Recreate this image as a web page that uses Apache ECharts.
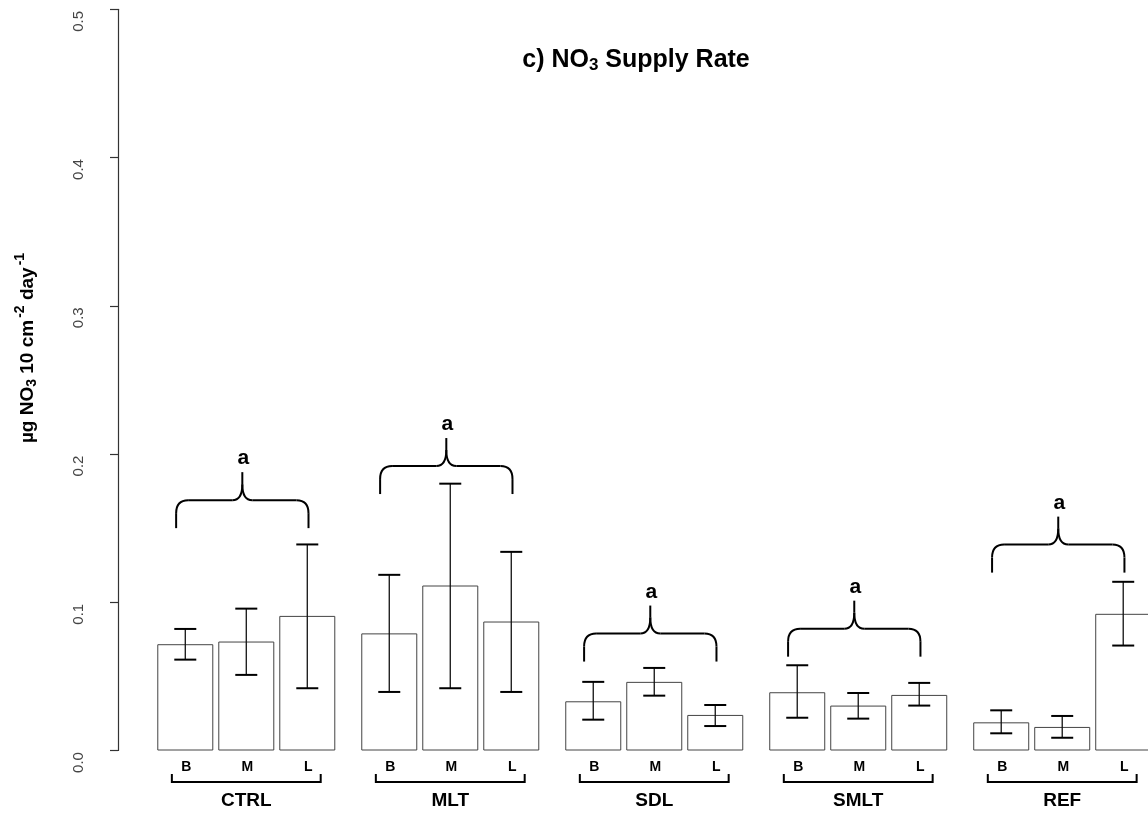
<!DOCTYPE html>
<html><head><meta charset="utf-8">
<script src="https://cdn.jsdelivr.net/npm/echarts@6/dist/echarts.min.js"></script>
<style>html,body{margin:0;padding:0;background:#fff}#c{width:1148px;height:816px}</style>
</head><body><div id="c"></div>
<script>
// ---------------- data ----------------
const groups = ['CTRL', 'MLT', 'SDL', 'SMLT', 'REF'];
const levels = ['B', 'M', 'L'];
const meanCTRL = [0.0717, 0.0735, 0.0908];
const meanMLT  = [0.0790, 0.1113, 0.0870];
const meanSDL  = [0.0332, 0.0463, 0.0240];
const meanSMLT = [0.0393, 0.0303, 0.0375];
const meanREF  = [0.0190, 0.0159, 0.0922];
const lowCTRL  = [0.0613, 0.0510, 0.0420];
const lowMLT   = [0.0395, 0.0420, 0.0395];
const lowSDL   = [0.0208, 0.0370, 0.0165];
const lowSMLT  = [0.0221, 0.0215, 0.0303];
const lowREF   = [0.0116, 0.0086, 0.0708];
const highCTRL = [0.0820, 0.0957, 0.1390];
const highMLT  = [0.1185, 0.1800, 0.1340];
const highSDL  = [0.0463, 0.0557, 0.0307];
const highSMLT = [0.0575, 0.0388, 0.0456];
const highREF  = [0.0271, 0.0233, 0.1138];
const braceBase = [0.150, 0.173, 0.060, 0.0633, 0.120];
const braceLetter = ['a', 'a', 'a', 'a', 'a'];
const yTicks = [0.0, 0.1, 0.2, 0.3, 0.4, 0.5];

const means = [meanCTRL, meanMLT, meanSDL, meanSMLT, meanREF];
const lows = [lowCTRL, lowMLT, lowSDL, lowSMLT, lowREF];
const highs = [highCTRL, highMLT, highSDL, highSMLT, highREF];

// ---------------- layout ----------------
const GSTEP = 3.344;         // group step in bar slots
const pos = (g, i) => g * GSTEP + i;
const FONT = 'Liberation Sans, Arial, Helvetica, sans-serif';

const barData = [], errData = [], lblData = [];
groups.forEach((g, gi) => levels.forEach((l, li) => {
  barData.push([pos(gi, li), means[gi][li]]);
  errData.push([pos(gi, li), lows[gi][li], highs[gi][li]]);
  lblData.push([pos(gi, li), 0, l]);
}));
const braceData = groups.map((g, gi) => [gi, braceBase[gi], braceLetter[gi]]);
const groupData = groups.map((g, gi) => [pos(gi, 1), 0, g]);

const chart = echarts.init(document.getElementById('c'), null, {renderer: 'canvas'});
const LINE = '#000';

chart.setOption({
  animation: false,
  backgroundColor: '#fff',
  grid: {left: 118, right: 0, top: 9.3, bottom: 65.5},
  xAxis: {type: 'value', min: -1.103, max: -1.103 + 1030 / 61, show: false},
  yAxis: {
    type: 'value', min: 0, max: 0.5, interval: 0.1,
    axisLine: {show: true, onZero: false, lineStyle: {color: '#333', width: 1.2}},
    axisTick: {show: true, length: 8, lineStyle: {color: '#333', width: 1.2}},
    splitLine: {show: false},
    axisLabel: {
      rotate: 90, margin: 32, fontSize: 15, color: '#444', fontFamily: FONT,
      padding: [0, 24, 0, 0],
      formatter: v => { const t = yTicks.find(x => Math.abs(x - v) < 1e-9); return t === undefined ? '' : t.toFixed(1); }
    }
  },
  graphic: [
    {
      type: 'text', x: 636, y: 60, z: 10,
      style: {
        text: '{b|c) NO}{s|3}{b| Supply Rate}', align: 'center', verticalAlign: 'middle',
        rich: {
          b: {fontSize: 25, fontWeight: 'bold', fontFamily: FONT, color: '#000'},
          s: {fontSize: 17, fontWeight: 'bold', fontFamily: FONT, color: '#000', padding: [11, 0, 0, 0]}
        }
      }
    },
    {
      type: 'text', x: 28, y: 348, rotation: Math.PI / 2, z: 10,
      style: {
        text: '{b|µg NO}{s|3}{b| 10 cm}{p|-2}{b| day}{p|-1}', align: 'center', verticalAlign: 'middle',
        rich: {
          b: {fontSize: 19, fontWeight: 'bold', fontFamily: FONT, color: '#000'},
          s: {fontSize: 14, fontWeight: 'bold', fontFamily: FONT, color: '#000', padding: [8, 0, 0, 0]},
          p: {fontSize: 14, fontWeight: 'bold', fontFamily: FONT, color: '#000', padding: [0, 0, 16, 2]}
        }
      }
    }
  ],
  series: [
    {
      type: 'bar', data: barData, barWidth: 56, silent: true,
      itemStyle: {color: '#fff', borderColor: '#444', borderWidth: 1}
    },
    {
      type: 'custom', data: errData, clip: false, silent: true, z: 5,
      renderItem: (params, api) => {
        const x = api.value(0);
        const a = api.coord([x, api.value(1)]);
        const b = api.coord([x, api.value(2)]);
        const hw = 11;
        return {type: 'group', children: [
          {type: 'line', shape: {x1: a[0], y1: a[1], x2: b[0], y2: b[1]}, style: {stroke: '#111', lineWidth: 1.3}},
          {type: 'line', shape: {x1: a[0] - hw, y1: a[1], x2: a[0] + hw, y2: a[1]}, style: {stroke: LINE, lineWidth: 2}},
          {type: 'line', shape: {x1: b[0] - hw, y1: b[1], x2: b[0] + hw, y2: b[1]}, style: {stroke: LINE, lineWidth: 2}}
        ]};
      }
    },
    {
      type: 'custom', data: braceData, clip: false, silent: true, z: 5,
      renderItem: (params, api) => {
        const g = api.value(0);
        const base = api.value(1);
        const pl = api.coord([g * GSTEP - 0.15, base]);
        const pr = api.coord([g * GSTEP + 2.02, base]);
        const L = pl[0], R = pr[0], Yb = pl[1];
        const H = Yb - 28, C = (L + R) / 2, P = Yb - 56;
        const st = {stroke: LINE, lineWidth: 2, fill: null};
        const ln = (x1, y1, x2, y2) => ({type: 'line', shape: {x1, y1, x2, y2}, style: st});
        const bz = (x1, y1, cpx1, cpy1, cpx2, cpy2, x2, y2) => ({type: 'bezierCurve', shape: {x1, y1, cpx1, cpy1, cpx2, cpy2, x2, y2}, style: st});
        return {type: 'group', children: [
          ln(L, Yb, L, Yb - 15),
          bz(L, Yb - 15, L, H + 4, L + 4, H, L + 12, H),
          ln(L + 12, H, C - 10, H),
          bz(C - 10, H, C - 2, H, C, H - 8, C, H - 16),
          ln(C, H - 16, C, P),
          bz(C, H - 16, C, H - 8, C + 2, H, C + 10, H),
          ln(C + 10, H, R - 12, H),
          bz(R - 12, H, R - 4, H, R, H + 4, R, Yb - 15),
          ln(R, Yb - 15, R, Yb),
          {type: 'text', x: C + 1, y: P - 3, style: {text: api.value(2), align: 'center', verticalAlign: 'bottom',
            font: 'bold 21px ' + FONT, fill: '#000'}}
        ]};
      }
    },
    {
      type: 'custom', data: lblData, clip: false, silent: true,
      renderItem: (params, api) => {
        const p = api.coord([api.value(0), 0]);
        return {type: 'text', x: p[0] + 1, y: p[1] + 17, style: {text: lblData[params.dataIndex][2], align: 'center', verticalAlign: 'middle', font: 'bold 14px ' + FONT, fill: '#000'}};
      }
    },
    {
      type: 'custom', data: groupData, clip: false, silent: true,
      renderItem: (params, api) => {
        const c = api.coord([api.value(0), 0]);
        const l = api.coord([api.value(0) - 1.22, 0]);
        const r = api.coord([api.value(0) + 1.22, 0]);
        const y = c[1] + 31.5;
        const st = {stroke: LINE, lineWidth: 2};
        return {type: 'group', children: [
          {type: 'polyline', shape: {points: [[l[0], y - 8], [l[0], y], [r[0], y], [r[0], y - 8]]}, style: Object.assign({fill: null}, st)},
          {type: 'text', x: c[0], y: c[1] + 50, style: {text: groupData[params.dataIndex][2], align: 'center', verticalAlign: 'middle', font: 'bold 19px ' + FONT, fill: '#000'}}
        ]};
      }
    }
  ]
});
</script>
</body></html>
